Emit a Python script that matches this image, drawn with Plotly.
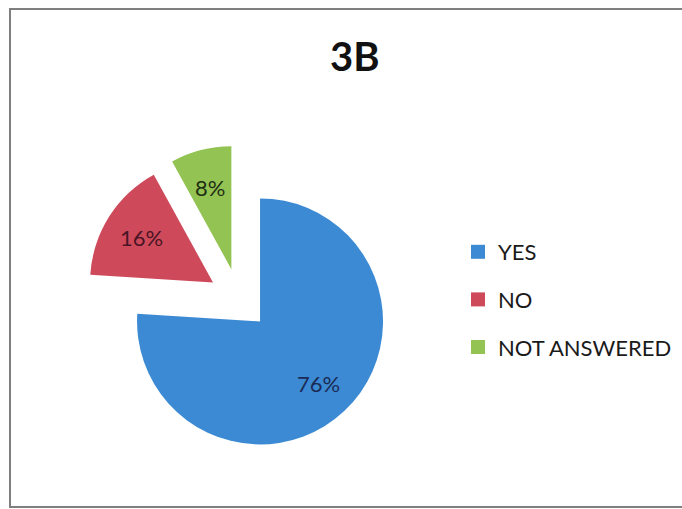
import math
import plotly.graph_objects as go

labels = ["YES", "NO", "NOT ANSWERED"]
values = [76, 16, 8]
slice_colors = ["#3C8AD3", "#CE4A5B", "#93C353"]
text_colors = ["#1A2B55", "#4A1424", "#1F2E12"]
title_text = "3B"

W, H = 682, 509
PULL = 0.25

# pie box (pixels)
cx, cy, half = 239.0, 299.0, 153.75
dom_x = [(cx - half) / W, (cx + half) / W]
dom_y = [1 - (cy + half) / H, 1 - (cy - half) / H]
radius = half / (1 + PULL)

fig = go.Figure()

fig.add_trace(go.Pie(
    labels=labels,
    values=values,
    sort=False,
    direction="clockwise",
    rotation=0,
    pull=[PULL] * len(values),
    marker=dict(colors=slice_colors, line=dict(width=0)),
    textinfo="none",
    domain=dict(x=dom_x, y=dom_y),
    showlegend=False,
    hoverinfo="label+percent",
))

for lab, col in zip(labels, slice_colors):
    fig.add_trace(go.Scatter(
        x=[None], y=[None], mode="markers",
        marker=dict(symbol="square", size=14, color=col),
        name=lab, legendgroup=lab, showlegend=True,
    ))

# data labels placed along each slice's bisector
annotations = []
total = sum(values)
cum = 0.0
for v, tc in zip(values, text_colors):
    theta = 2 * math.pi * (cum + v / 2) / total
    cum += v
    dx, dy = math.sin(theta), -math.cos(theta)
    dist = radius * (PULL + 0.69)
    px, py = cx + dist * dx, cy + dist * dy
    annotations.append(dict(
        text=f"{round(100 * v / total)}%", x=px / W, y=1 - py / H,
        xref="paper", yref="paper", showarrow=False,
        xanchor="center", yanchor="middle",
        font=dict(family="Lato", size=22, color=tc),
    ))

annotations.append(dict(
    text="<b>" + title_text + "</b>", x=355 / W, y=1 - 56 / H,
    xref="paper", yref="paper", showarrow=False,
    xanchor="center", yanchor="middle",
    font=dict(family="Lato", size=40, color="#111111"),
))

fig.update_layout(
    width=W, height=H,
    margin=dict(l=0, r=0, t=0, b=0),
    paper_bgcolor="white",
    plot_bgcolor="white",
    xaxis=dict(visible=False),
    yaxis=dict(visible=False),
    showlegend=True,
    legend=dict(
        x=458 / W, y=1 - 231 / H, xanchor="left", yanchor="top",
        font=dict(family="Lato", size=22, color="#1a1a1a"),
        tracegroupgap=16, itemwidth=30, bgcolor="rgba(0,0,0,0)",
        traceorder="grouped",
    ),
    annotations=annotations,
    shapes=[dict(
        type="rect", xref="paper", yref="paper",
        x0=10 / W, x1=1.03, y0=1 - 507 / H, y1=1 - 9 / H,
        line=dict(color="#7f7f7f", width=2),
    )],
)

fig.write_html(
    "out.html",
    config={"displayModeBar": False},
    post_script="document.body.style.margin='0';document.body.style.overflow='hidden';",
)
